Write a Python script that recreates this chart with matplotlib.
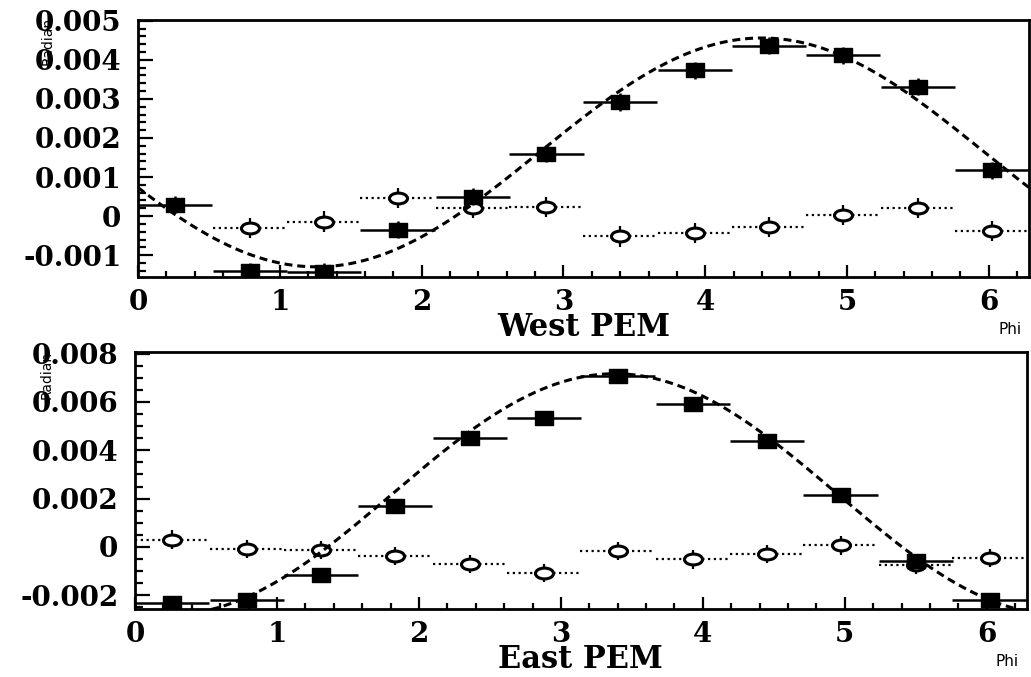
import numpy as np
import matplotlib
matplotlib.use("Agg")
import matplotlib.pyplot as plt
from matplotlib.path import Path
from matplotlib.ticker import MultipleLocator, FuncFormatter

# ---------------- data ----------------
phi_centers = [0.26, 0.79, 1.31, 1.83, 2.36, 2.88, 3.40, 3.93, 4.45, 4.97, 5.50, 6.02]
bin_half_width = 0.262

west_filled = [0.00029, -0.00141, -0.00142, -0.00035, 0.00050, 0.00160,
               0.00292, 0.00373, 0.00436, 0.00412, 0.00331, 0.00117]
west_filled_err = 0.00022
west_open = [np.nan, -0.00031, -0.00014, 0.00046, 0.00020, 0.00024,
             -0.00052, -0.00043, -0.00028, 0.00002, 0.00021, -0.00039]
west_open_err = 0.00026
west_fit = (0.00163, 0.00293, 4.40)      # offset, amplitude, phase

east_filled = [-0.00231, -0.00220, -0.00118, 0.00170, 0.00450, 0.00535,
               0.00707, 0.00590, 0.00439, 0.00217, -0.00058, -0.00221]
east_filled_err = 0.00025
east_open = [0.00030, -0.00009, -0.00014, -0.00037, -0.00072, -0.00107,
             -0.00017, -0.00052, -0.00029, 0.00006, -0.00074, -0.00047]
east_open_err = 0.00038
east_fit = (0.00218, 0.00499, 3.38)

# ---------------- figure ----------------
W, H = 1031, 677
fig = plt.figure(figsize=(W / 100, H / 100), dpi=100)

rect_marker = Path([(-0.65, -0.5), (0.65, -0.5), (0.65, 0.5), (-0.65, 0.5), (-0.65, -0.5)],
                   [Path.MOVETO, Path.LINETO, Path.LINETO, Path.LINETO, Path.CLOSEPOLY])
uc = Path.unit_circle()
ell_marker = Path(uc.vertices * np.array([1.0, 0.6]), uc.codes)

serif_bold = dict(family="DejaVu Serif", weight="bold")


def fmt(v, pos):
    if abs(v) < 1e-12:
        return "0"
    return "%.3f" % v


def panel(box, filled, ferr, opn, oerr, fit, ylim, major, minor):
    ax = fig.add_axes(box)
    x = np.array(phi_centers)
    # open circles, dotted horizontal bars
    eb = ax.errorbar(x, np.array(opn, dtype=float), xerr=bin_half_width, yerr=oerr,
                     fmt="none", ecolor="black", elinewidth=1.6, capsize=0, zorder=2)
    eb.lines[2][0].set_linestyle((0, (1.0, 1.6)))
    ax.plot(x, opn, ls="none", marker=ell_marker, ms=13, mfc="white", mec="black",
            mew=2.2, zorder=3)
    # filled squares, solid bars
    ax.errorbar(x, filled, xerr=bin_half_width, yerr=ferr, fmt="none",
                ecolor="black", elinewidth=1.8, capsize=0, zorder=4)
    ax.plot(x, filled, ls="none", marker=rect_marker, ms=12.5, mfc="black",
            mec="black", zorder=5)
    # fit curve
    a, b, p0 = fit
    xf = np.linspace(0, 2 * np.pi, 500)
    ax.plot(xf, a + b * np.cos(xf - p0), color="black", lw=2.2,
            dashes=(2.6, 1.6), zorder=6)

    ax.set_xlim(0, 2 * np.pi)
    ax.set_ylim(*ylim)
    ax.xaxis.set_major_locator(MultipleLocator(1))
    ax.xaxis.set_minor_locator(MultipleLocator(0.2))
    ax.yaxis.set_major_locator(MultipleLocator(major))
    ax.yaxis.set_minor_locator(MultipleLocator(minor))
    ax.yaxis.set_major_formatter(FuncFormatter(fmt))
    ax.tick_params(which="both", direction="in", top=False, right=False, width=1.6)
    ax.tick_params(axis="x", which="major", length=9, pad=9)
    ax.tick_params(axis="x", which="minor", length=4.5)
    ax.tick_params(axis="y", which="major", length=11, pad=12)
    ax.tick_params(axis="y", which="minor", length=5.5)
    for lab in ax.get_xticklabels() + ax.get_yticklabels():
        lab.set_fontfamily("DejaVu Serif")
        lab.set_fontweight("bold")
        lab.set_fontsize(20)
    for s in ax.spines.values():
        s.set_linewidth(2.0)
    return ax


ax1 = panel([138 / W, 1 - 277 / H, 891 / W, 257 / H],
            west_filled, west_filled_err, west_open, west_open_err, west_fit,
            (-0.00156, 0.00502), 0.001, 0.0002)
ax2 = panel([135 / W, 1 - 609 / H, 892 / W, 257 / H],
            east_filled, east_filled_err, east_open, east_open_err, east_fit,
            (-0.00257, 0.00807), 0.002, 0.0005)

fig.text(584 / W, 1 - 328 / H, "West PEM", ha="center", va="center", fontsize=22, **serif_bold)
fig.text(580 / W, 1 - 659 / H, "East PEM", ha="center", va="center", fontsize=22, **serif_bold)
fig.text(1010 / W, 1 - 329 / H, "Phi", ha="center", va="center", fontsize=11, family="DejaVu Sans")
fig.text(1007 / W, 1 - 662 / H, "Phi", ha="center", va="center", fontsize=11, family="DejaVu Sans")
fig.text(48 / W, 1 - 41 / H, "Radian", ha="center", va="center", rotation=90, fontsize=10,
         family="DejaVu Sans")
fig.text(47 / W, 1 - 375 / H, "Radian", ha="center", va="center", rotation=90, fontsize=10,
         family="DejaVu Sans")

fig.savefig("out.png", dpi=100)
